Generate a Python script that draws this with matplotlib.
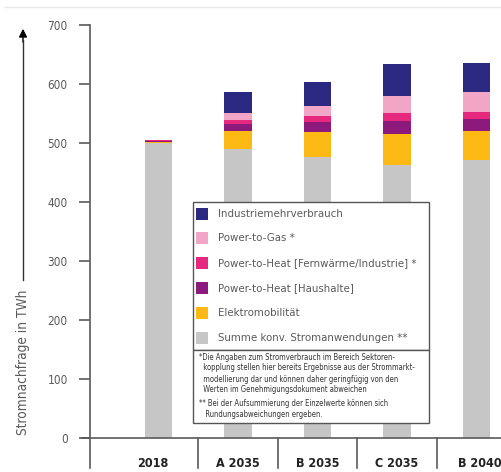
import numpy as np
import matplotlib

matplotlib.use("Agg")
import matplotlib.pyplot as plt
from matplotlib.patches import Rectangle
from matplotlib.lines import Line2D

plt.rcParams["font.family"] = ["DejaVu Sans"]
plt.rcParams["font.stretch"] = "condensed"

# --- data (TWh) --------------------------------------------------------------
categories = ["2018", "A 2035", "B 2035", "C 2035", "B 2040"]
konv = [500, 489, 477, 463, 471]          # Summe konv. Stromanwendungen
emob = [2, 32, 42, 52, 50]                # Elektromobilität
pth_haus = [1, 11, 17, 22, 19]            # Power-to-Heat (Haushalte)
pth_fern = [2, 7, 9, 14, 13]              # Power-to-Heat (Fernwärme/Industrie)
ptg = [0, 12, 18, 29, 34]                 # Power-to-Gas
industrie = [0, 36, 41, 54, 49]           # Industriemehrverbrauch

series_names = [
    "Summe konv. Stromanwendungen **",
    "Elektromobilität",
    "Power-to-Heat [Haushalte]",
    "Power-to-Heat [Fernwärme/Industrie] *",
    "Power-to-Gas *",
    "Industriemehrverbrauch",
]
series_values = [konv, emob, pth_haus, pth_fern, ptg, industrie]
series_colors = ["#c6c6c6", "#fdb913", "#8c1a7c", "#e6287f", "#f2a6c7", "#2b2882"]

yticks = [0, 100, 200, 300, 400, 500, 600, 700]

footnote_1 = [
    "*Die Angaben zum Stromverbrauch im Bereich Sektoren-",
    "  kopplung stellen hier bereits Ergebnisse aus der Strommarkt-",
    "  modellierung dar und können daher geringfügig von den",
    "  Werten im Genehmigungsdokument abweichen",
]
footnote_2 = [
    "** Bei der Aufsummierung der Einzelwerte können sich",
    "   Rundungsabweichungen ergeben.",
]

W, H = 502, 472
GREY = "#5a5a5a"

fig = plt.figure(figsize=(W / 100, H / 100), dpi=100)


def fx(px):
    return px / W


def fy(py):
    return 1 - py / H


ax = fig.add_axes([fx(90), fy(468), fx(502) - fx(90), fy(25) - fy(468)])

x = np.arange(len(categories))
bottom = np.zeros(len(categories))
for vals, color in zip(series_values, series_colors):
    ax.bar(x, vals, bottom=bottom, width=0.34, color=color, zorder=2)
    bottom += np.array(vals)

ax.set_xlim(-0.862, 4.321)
ax.set_ylim(-51, 700)
ax.set_yticks(yticks)
ax.set_yticklabels([str(v) for v in yticks], color=GREY, fontsize=8.5)
ax.tick_params(axis="y", length=8, width=1.2, color=GREY, pad=8)
ax.set_xticks([])
for side in ["top", "right", "bottom"]:
    ax.spines[side].set_visible(False)
ax.spines["left"].set_color(GREY)
ax.spines["left"].set_linewidth(1.2)

# baseline and category separators
ax.plot([-0.962, 4.321], [0, 0], color=GREY, lw=1.2, clip_on=False, zorder=3)
for i in range(len(categories) - 1):
    ax.plot([i + 0.5, i + 0.5], [0, -51], color=GREY, lw=1.2, clip_on=False)
label_shift = [-0.07, 0, 0, 0, 0.04]
for i, cat in enumerate(categories):
    ax.text(i + label_shift[i], -44, cat, ha="center", va="center", fontsize=9,
            fontweight="bold", color="#222222")

# y-axis label with arrow
fig.add_artist(Line2D([fx(23), fx(23)], [fy(280), fy(40)], color="#333333", lw=1))
ax.annotate("", xy=(23, H - 26), xytext=(23, H - 45), xycoords="figure pixels",
            textcoords="figure pixels",
            arrowprops=dict(arrowstyle="-|>", color="black", lw=1, mutation_scale=12))
fig.text(fx(23), fy(362), "Stromnachfrage in TWh", rotation=90, ha="center",
         va="center", fontsize=9.8, color=GREY)

# faint top rule
fig.add_artist(Line2D([fx(5), fx(502)], [fy(7), fy(7)], color="#e8e8e8", lw=1))

# legend box
fig.add_artist(Rectangle((fx(193), fy(350)), fx(429) - fx(193), fy(202) - fy(350),
                         transform=fig.transFigure, facecolor="white",
                         edgecolor="#555555", lw=1, zorder=5))
row_y = [338, 313, 288, 263, 238, 214]
for name, color, py in zip(series_names, series_colors, row_y):
    fig.add_artist(Rectangle((fx(196), fy(py + 6)), fx(12), 12 / H,
                             transform=fig.transFigure, facecolor=color,
                             edgecolor="none", zorder=6))
    fig.text(fx(218), fy(py), name, ha="left", va="center", fontsize=8.2,
             color=GREY, zorder=7)

# footnote box
fig.add_artist(Rectangle((fx(193), fy(423)), fx(429) - fx(193), fy(350) - fy(423),
                         transform=fig.transFigure, facecolor="white",
                         edgecolor="#555555", lw=1, zorder=5))
for k, line in enumerate(footnote_1):
    fig.text(fx(199), fy(357 + 11 * k), line, ha="left", va="center",
             fontsize=5.5, color="#333333", zorder=7)
for k, line in enumerate(footnote_2):
    fig.text(fx(199), fy(403 + 11.5 * k), line, ha="left", va="center",
             fontsize=5.5, color="#333333", zorder=7)

fig.savefig("out.png", dpi=100)
